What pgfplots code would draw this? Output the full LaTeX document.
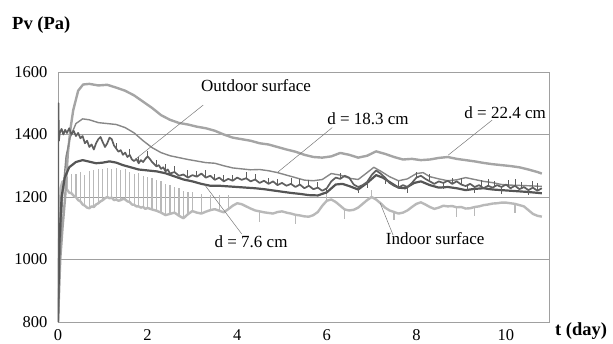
\documentclass[border=0pt]{standalone}
\usepackage{fontspec}
\setmainfont{Liberation Serif}
\usepackage{pgfplots}
\pgfplotsset{compat=1.18}
\definecolor{axisgray}{RGB}{160,160,160}
\definecolor{cfar}{RGB}{165,165,165}
\definecolor{cmid}{RGB}{135,135,135}
\definecolor{cnear}{RGB}{85,85,85}
\definecolor{cout}{RGB}{95,95,95}
\definecolor{cin}{RGB}{185,185,185}
\definecolor{cptr}{RGB}{120,120,120}
\newcommand\fs{\fontsize{17}{20}\selectfont}
\newcommand\tfs{\fontsize{16.5}{19}\selectfont}
\begin{document}
\begin{tikzpicture}
\path[use as bounding box] (-58pt,-21pt) rectangle (555pt,322pt);
\begin{axis}[
  at={(0,0)}, anchor=south west,
  scale only axis, width=491pt, height=250pt,
  xmin=0, xmax=10.96, ymin=800, ymax=1600,
  xtick={0,2,...,10}, ytick={800,1000,...,1600},
  axis line style={draw=axisgray, line width=0.8pt},
  ymajorgrids, grid style={axisgray, line width=0.8pt},
  major tick length=0pt,
  tick label style={font=\tfs},
  /pgf/number format/assume math mode=true,
  /pgf/number format/1000 sep={},
  xticklabel style={yshift=-4pt},
  yticklabel style={xshift=-7pt},
  unbounded coords=jump,
]
% Indoor surface (base)
\addplot[cin, line width=2.4pt, line join=round] coordinates {
(0,800) (0.03,1100) (0.06,1230) (0.1,1250) (0.15,1232) (0.2,1224) (0.25,1214) (0.3,1212)
(0.35,1204) (0.4,1200) (0.45,1190) (0.5,1186) (0.55,1176) (0.6,1172) (0.65,1166) (0.7,1164)
(0.75,1170) (0.8,1168) (0.85,1176) (0.9,1180) (0.95,1186) (1.0,1190) (1.05,1196) (1.1,1200)
(1.15,1196) (1.2,1198) (1.25,1190) (1.3,1192) (1.35,1188) (1.4,1190) (1.45,1194) (1.5,1192)
(1.55,1186) (1.6,1184) (1.65,1176) (1.7,1175) (1.75,1170) (1.8,1170) (1.85,1166) (1.9,1168)
(1.95,1162) (2.0,1165) (2.1,1160) (2.2,1156) (2.3,1150) (2.4,1142) (2.5,1146) (2.6,1150)
(2.7,1140) (2.8,1132) (2.9,1145) (3.0,1155) (3.1,1150) (3.2,1147) (3.3,1153) (3.4,1158)
(3.5,1161) (3.6,1156) (3.7,1151) (3.8,1161) (3.9,1172) (4.0,1180) (4.1,1177) (4.2,1170)
(4.3,1163) (4.4,1157) (4.5,1154) (4.6,1151) (4.7,1149) (4.8,1147) (4.9,1152) (5.0,1154)
(5.1,1150) (5.2,1147) (5.3,1143) (5.4,1141) (5.5,1138) (5.6,1137) (5.7,1142) (5.8,1152)
(5.9,1172) (6.0,1188) (6.1,1192) (6.2,1184) (6.3,1172) (6.4,1160) (6.5,1157) (6.6,1159)
(6.7,1166) (6.8,1178) (6.9,1190) (7.0,1200) (7.1,1192) (7.2,1180) (7.3,1166) (7.4,1157)
(7.5,1152) (7.6,1147) (7.7,1150) (7.8,1157) (7.9,1168) (8.0,1178) (8.1,1183) (8.2,1176)
(8.3,1168) (8.4,1162) (8.5,1166) (8.6,1172) (8.7,1170) (8.8,1171) (8.9,1167) (9.0,1168)
(9.1,1163) (9.2,1164) (9.3,1168) (9.4,1170) (9.5,1174) (9.6,1176) (9.7,1179) (9.8,1180)
(9.9,1182) (10.0,1182) (10.1,1180) (10.2,1178) (10.3,1174) (10.4,1170) (10.5,1158)
(10.6,1146) (10.7,1140) (10.8,1137)
};
% Indoor surface (hourly spikes)
\addplot[cin, line width=1.2pt] coordinates {
(0.2,1224) (0.2,1265) (0.2,nan) (0.3,1212) (0.3,1275) (0.3,nan)
(0.4,1200) (0.4,1272) (0.4,nan) (0.5,1186) (0.5,1280) (0.5,nan)
(0.6,1172) (0.6,1270) (0.6,nan) (0.7,1164) (0.7,1282) (0.7,nan)
(0.8,1168) (0.8,1285) (0.8,nan) (0.9,1180) (0.9,1288) (0.9,nan)
(1.0,1190) (1.0,1290) (1.0,nan) (1.1,1200) (1.1,1292) (1.1,nan)
(1.2,1198) (1.2,1288) (1.2,nan) (1.3,1192) (1.3,1292) (1.3,nan)
(1.4,1190) (1.4,1285) (1.4,nan) (1.5,1192) (1.5,1290) (1.5,nan)
(1.6,1184) (1.6,1280) (1.6,nan) (1.7,1175) (1.7,1275) (1.7,nan)
(1.8,1170) (1.8,1278) (1.8,nan) (1.9,1168) (1.9,1268) (1.9,nan)
(2.0,1165) (2.0,1265) (2.0,nan) (2.1,1160) (2.1,1262) (2.1,nan)
(2.2,1156) (2.2,1255) (2.2,nan) (2.3,1150) (2.3,1250) (2.3,nan)
(2.4,1142) (2.4,1242) (2.4,nan) (2.5,1146) (2.5,1238) (2.5,nan)
(2.6,1150) (2.6,1232) (2.6,nan) (2.7,1140) (2.7,1228) (2.7,nan)
(2.8,1132) (2.8,1220) (2.8,nan) (2.9,1145) (2.9,1215) (2.9,nan)
(3.0,1155) (3.0,1215) (3.0,nan) (3.2,1147) (3.2,1210) (3.2,nan)
(3.4,1158) (3.4,1205) (3.4,nan) (3.6,1156) (3.6,1205) (3.6,nan)
(3.8,1161) (3.8,1205) (3.8,nan)
(4.5,1154) (4.5,1120) (4.5,nan) (5.3,1143) (5.3,1115) (5.3,nan)
(6.0,1188) (6.0,1215) (6.0,nan) (6.4,1160) (6.4,1130) (6.4,nan)
(7.0,1200) (7.0,1222) (7.0,nan) (7.5,1152) (7.5,1125) (7.5,nan)
(8.9,1167) (8.9,1135) (8.9,nan) (9.3,1168) (9.3,1140) (9.3,nan)
(10.2,1178) (10.2,1150) (10.2,nan)
};
% d = 22.4 cm
\addplot[cfar, line width=2.4pt, line join=round] coordinates {
(0,800) (0.05,1000) (0.1,1100) (0.16,1200) (0.22,1340) (0.28,1420) (0.34,1478) (0.45,1540)
(0.56,1560) (0.7,1562) (0.9,1557) (1.1,1559) (1.3,1550) (1.5,1540) (1.7,1525) (1.9,1505)
(2.1,1485) (2.3,1462) (2.5,1447) (2.7,1437) (2.9,1432) (3.1,1425) (3.3,1420) (3.5,1412)
(3.7,1400) (3.9,1390) (4.1,1385) (4.3,1380) (4.5,1372) (4.7,1368) (4.9,1360) (5.1,1352)
(5.3,1345) (5.5,1335) (5.7,1328) (5.9,1326) (6.1,1330) (6.3,1341) (6.5,1335) (6.7,1326)
(6.9,1332) (7.1,1346) (7.3,1338) (7.5,1328) (7.7,1320) (7.9,1322) (8.1,1318) (8.3,1320)
(8.5,1325) (8.7,1328) (8.9,1322) (9.1,1318) (9.3,1314) (9.5,1309) (9.7,1305) (9.9,1302)
(10.1,1299) (10.3,1295) (10.5,1288) (10.7,1280) (10.8,1275)
};
% d = 18.3 cm
\addplot[cmid, line width=1.4pt, line join=round] coordinates {
(0,800) (0.04,1000) (0.1,1200) (0.18,1330) (0.27,1390) (0.4,1435) (0.55,1450) (0.7,1447)
(0.9,1438) (1.1,1435) (1.3,1432) (1.5,1422) (1.7,1405) (1.9,1380) (2.1,1358) (2.3,1342)
(2.5,1332) (2.7,1326) (2.9,1320) (3.1,1315) (3.3,1310) (3.5,1308) (3.7,1300) (3.9,1293)
(4.1,1290) (4.3,1287) (4.5,1288) (4.7,1284) (4.9,1278) (5.1,1270) (5.3,1262) (5.5,1254)
(5.7,1252) (5.9,1256) (6.1,1275) (6.3,1270) (6.5,1260) (6.7,1256) (6.9,1278) (7.05,1295)
(7.2,1283) (7.4,1265) (7.6,1252) (7.8,1258) (8.0,1275) (8.15,1278) (8.3,1265) (8.5,1258)
(8.7,1252) (8.9,1255) (9.1,1262) (9.3,1256) (9.5,1250) (9.7,1246) (9.9,1240) (10.1,1238)
(10.3,1237) (10.5,1236) (10.8,1234)
};
% d = 7.6 cm
\addplot[cnear, line width=2.2pt, line join=round] coordinates {
(0,800) (0.03,1050) (0.08,1200) (0.15,1262) (0.25,1295) (0.4,1312) (0.55,1318) (0.7,1313)
(0.85,1308) (1.0,1310) (1.15,1314) (1.3,1310) (1.45,1302) (1.6,1296) (1.8,1288) (2.0,1285)
(2.2,1282) (2.4,1276) (2.6,1266) (2.8,1256) (3.0,1250) (3.2,1242) (3.4,1236) (3.6,1236)
(3.8,1234) (4.0,1232) (4.2,1230) (4.4,1228) (4.6,1225) (4.8,1221) (5.0,1217) (5.2,1213)
(5.4,1210) (5.6,1206) (5.8,1205) (6.0,1215) (6.2,1240) (6.35,1242) (6.5,1235) (6.7,1224)
(6.9,1245) (7.1,1270) (7.25,1262) (7.4,1248) (7.6,1230) (7.75,1228) (7.95,1245) (8.1,1250)
(8.3,1238) (8.5,1230) (8.7,1232) (8.9,1228) (9.1,1222) (9.3,1226) (9.5,1228) (9.7,1224)
(9.9,1222) (10.1,1220) (10.3,1218) (10.5,1216) (10.8,1212)
};
% Outdoor surface
\addplot[cout, line width=1.7pt, line join=round] coordinates {
(0,800) (0.01,1500) (0.02,1380) (0.04,1405) (0.08,1418) (0.12,1400) (0.16,1415) (0.2,1405)
(0.25,1420) (0.3,1400) (0.35,1412) (0.4,1395) (0.45,1405) (0.5,1388) (0.55,1395) (0.6,1372)
(0.65,1380) (0.7,1360) (0.75,1368) (0.8,1352) (0.85,1372) (0.9,1385) (0.95,1392) (1.0,1375)
(1.05,1360) (1.1,1372) (1.15,1390) (1.2,1385) (1.25,1365) (1.3,1355) (1.35,1345) (1.4,1350)
(1.45,1335) (1.5,1342) (1.55,1328) (1.6,1335) (1.65,1320) (1.7,1315) (1.75,1322) (1.8,1308)
(1.85,1318) (1.9,1312) (1.95,1322) (2.0,1330) (2.05,1322) (2.1,1312) (2.15,1305) (2.2,1298)
(2.25,1302) (2.3,1290) (2.35,1295) (2.4,1282) (2.45,1288) (2.5,1275) (2.6,1280) (2.7,1268)
(2.8,1272) (2.9,1262) (3.0,1270) (3.1,1265) (3.2,1275) (3.3,1262) (3.4,1268) (3.5,1255)
(3.6,1262) (3.7,1250) (3.8,1258) (3.9,1252) (4.0,1262) (4.1,1255) (4.2,1260) (4.3,1250)
(4.4,1256) (4.5,1245) (4.6,1252) (4.7,1242) (4.8,1250) (4.9,1238) (5.0,1245) (5.1,1236)
(5.2,1242) (5.3,1232) (5.4,1240) (5.5,1228) (5.6,1236) (5.7,1225) (5.8,1230) (5.9,1220)
(6.0,1228) (6.1,1250) (6.2,1262) (6.3,1258) (6.4,1268) (6.5,1262) (6.6,1240) (6.7,1232)
(6.8,1238) (6.9,1248) (7.0,1270) (7.1,1285) (7.2,1275) (7.3,1262) (7.4,1245) (7.5,1236)
(7.6,1230) (7.7,1238) (7.8,1232) (7.9,1245) (8.0,1262) (8.1,1268) (8.2,1258) (8.3,1250)
(8.4,1242) (8.5,1250) (8.6,1245) (8.7,1252) (8.8,1242) (8.9,1250) (9.0,1240) (9.1,1235)
(9.2,1242) (9.3,1232) (9.4,1238) (9.5,1228) (9.6,1236) (9.7,1230) (9.8,1238) (9.9,1232)
(10.0,1240) (10.1,1228) (10.2,1236) (10.3,1225) (10.4,1232) (10.5,1222) (10.6,1230)
(10.7,1220) (10.8,1228)
};
% Outdoor surface (short spikes)
\addplot[cout, line width=0.9pt] coordinates {
(1.3,1355) (1.3,1372) (1.3,nan) (1.6,1335) (1.6,1352) (1.6,nan)
(1.8,1308) (1.8,1328) (1.8,nan) (2.0,1330) (2.0,1348) (2.0,nan)
(2.2,1298) (2.2,1318) (2.2,nan) (2.4,1282) (2.4,1305) (2.4,nan)
(2.6,1280) (2.6,1298) (2.6,nan) (2.9,1262) (2.9,1285) (2.9,nan)
(3.1,1265) (3.1,1282) (3.1,nan) (3.3,1262) (3.3,1285) (3.3,nan)
(3.5,1255) (3.5,1272) (3.5,nan) (3.7,1250) (3.7,1270) (3.7,nan)
(3.9,1252) (3.9,1270) (3.9,nan) (4.2,1260) (4.2,1280) (4.2,nan)
(4.4,1256) (4.4,1274) (4.4,nan) (4.7,1242) (4.7,1262) (4.7,nan)
(4.9,1238) (4.9,1258) (4.9,nan) (5.2,1242) (5.2,1262) (5.2,nan)
(5.4,1240) (5.4,1258) (5.4,nan) (5.6,1236) (5.6,1255) (5.6,nan)
(5.8,1230) (5.8,1248) (5.8,nan) (6.0,1228) (6.0,1208) (6.0,nan)
(6.3,1258) (6.3,1276) (6.3,nan) (6.7,1232) (6.7,1212) (6.7,nan)
(6.9,1248) (6.9,1228) (6.9,nan) (7.3,1262) (7.3,1240) (7.3,nan)
(7.6,1230) (7.6,1250) (7.6,nan) (7.8,1232) (7.8,1212) (7.8,nan)
(8.0,1262) (8.0,1280) (8.0,nan) (8.3,1250) (8.3,1272) (8.3,nan)
(8.6,1245) (8.6,1225) (8.6,nan) (8.8,1242) (8.8,1262) (8.8,nan)
(9.0,1240) (9.0,1262) (9.0,nan) (9.15,1238) (9.15,1218) (9.15,nan)
(9.3,1232) (9.3,1212) (9.3,nan) (9.45,1234) (9.45,1255) (9.45,nan)
(9.6,1236) (9.6,1258) (9.6,nan) (9.75,1232) (9.75,1252) (9.75,nan)
(9.9,1232) (9.9,1210) (9.9,nan) (10.05,1236) (10.05,1255) (10.05,nan)
(10.2,1236) (10.2,1256) (10.2,nan) (10.35,1228) (10.35,1248) (10.35,nan)
(10.5,1222) (10.5,1205) (10.5,nan) (10.6,1230) (10.6,1250) (10.6,nan)
(10.7,1220) (10.7,1245) (10.7,nan)
};
% pointers and labels
\draw[cptr, line width=0.5pt] (axis cs:3.24,1494) -- (axis cs:1.72,1320);
\draw[cptr, line width=0.5pt] (axis cs:6.12,1422) -- (axis cs:4.91,1280);
\draw[cptr, line width=0.5pt] (axis cs:9.69,1446) -- (axis cs:8.71,1334);
\draw[cptr, line width=0.5pt] (axis cs:4.10,1082) -- (axis cs:3.28,1238);
\draw[cptr, line width=0.5pt] (axis cs:7.48,1078) -- (axis cs:7.19,1181);
\node[font=\fs, inner sep=0pt] at (axis cs:4.42,1555) {Outdoor surface};
\node[font=\fs, inner sep=0pt] at (axis cs:6.92,1452) {d = 18.3 cm};
\node[font=\fs, inner sep=0pt] at (axis cs:9.98,1470) {d = 22.4 cm};
\node[font=\fs, inner sep=0pt] at (axis cs:4.31,1058) {d = 7.6 cm};
\node[font=\fs, inner sep=0pt] at (axis cs:8.42,1068) {Indoor surface};
\end{axis}
\node[anchor=west, font=\fontsize{18.5}{21}\selectfont\bfseries, inner sep=0pt] at (-46pt,297pt) {Pv (Pa)};
\node[anchor=west, font=\fontsize{18.5}{21}\selectfont\bfseries, inner sep=0pt] at (497pt,-9pt) {t (day)};
\end{tikzpicture}
\end{document}
